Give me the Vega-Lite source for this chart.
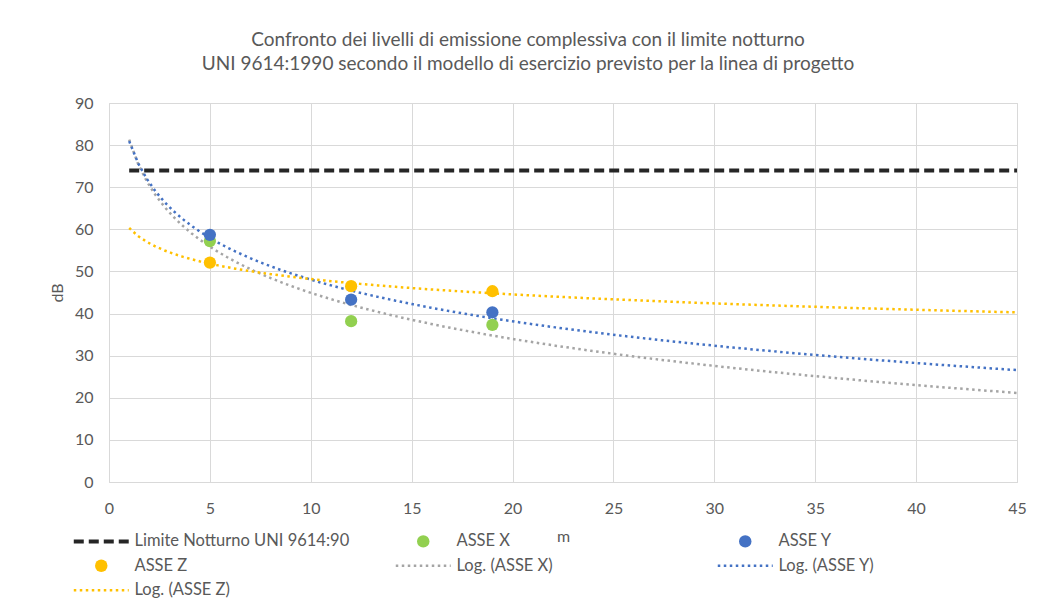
{
  "$schema": "https://vega.github.io/schema/vega-lite/v6.json",
  "width": 908,
  "height": 379,
  "autosize": {"type": "none"},
  "padding": {"left": 109, "top": 103, "right": 23, "bottom": 122},
  "background": "white",
  "config": {
    "font": "Lato",
    "view": {"stroke": "#d9d9d9"},
    "axis": {"labelFont": "Lato", "titleFont": "Lato"},
    "legend": {"labelFont": "Lato"}
  },
  "title": {
    "text": [
      "Confronto dei livelli di emissione complessiva con il limite notturno",
      "UNI 9614:1990 secondo il modello di esercizio previsto per la linea di progetto"
    ],
    "fontSize": 19,
    "fontWeight": "normal",
    "color": "#595959",
    "lineHeight": 24,
    "anchor": "middle",
    "frame": "group",
    "dx": -35,
    "offset": 21
  },
  "datasets": {
    "pts": [
      {"series": "ASSE X", "trend": "Log. (ASSE X)", "x": 5, "y": 57.2},
      {"series": "ASSE X", "trend": "Log. (ASSE X)", "x": 12, "y": 38.2},
      {"series": "ASSE X", "trend": "Log. (ASSE X)", "x": 19, "y": 37.3},
      {"series": "ASSE Y", "trend": "Log. (ASSE Y)", "x": 5, "y": 58.7},
      {"series": "ASSE Y", "trend": "Log. (ASSE Y)", "x": 12, "y": 43.3},
      {"series": "ASSE Y", "trend": "Log. (ASSE Y)", "x": 19, "y": 40.3},
      {"series": "ASSE Z", "trend": "Log. (ASSE Z)", "x": 5, "y": 52.1},
      {"series": "ASSE Z", "trend": "Log. (ASSE Z)", "x": 12, "y": 46.5},
      {"series": "ASSE Z", "trend": "Log. (ASSE Z)", "x": 19, "y": 45.3}
    ],
    "lim": [
      {"series": "Limite Notturno UNI 9614:90", "x": 1, "y": 74},
      {"series": "Limite Notturno UNI 9614:90", "x": 45, "y": 74}
    ]
  },
  "encoding": {
    "x": {
      "field": "x",
      "type": "quantitative",
      "scale": {"domain": [0, 45], "nice": false, "zero": false},
      "axis": {
        "values": [0, 5, 10, 15, 20, 25, 30, 35, 40, 45],
        "grid": true,
        "gridColor": "#d9d9d9",
        "domainColor": "#d9d9d9",
        "ticks": false,
        "labelPadding": 18,
        "labelFlush": false,
        "labelFontSize": 16,
        "labelColor": "#595959",
        "title": "m",
        "titleFontSize": 16,
        "titleFontWeight": "normal",
        "titleColor": "#595959",
        "titleY": 59,
        "titleBaseline": "alphabetic"
      }
    },
    "y": {
      "field": "y",
      "type": "quantitative",
      "scale": {"domain": [0, 90], "nice": false},
      "axis": {
        "values": [0, 10, 20, 30, 40, 50, 60, 70, 80, 90],
        "grid": true,
        "gridColor": "#d9d9d9",
        "domain": false,
        "ticks": false,
        "labelPadding": 16,
        "labelFontSize": 16,
        "labelColor": "#595959",
        "title": "dB",
        "titleFontSize": 16,
        "titleFontWeight": "normal",
        "titleColor": "#595959",
        "titlePadding": 9
      }
    }
  },
  "layer": [
    {
      "data": {"name": "pts"},
      "transform": [
        {"regression": "y", "on": "x", "method": "log", "groupby": ["trend"], "extent": [1, 45]}
      ],
      "mark": {"type": "line", "strokeWidth": 2.5, "clip": true},
      "encoding": {
        "color": {
          "field": "trend",
          "type": "nominal",
          "scale": {
            "domain": ["Limite Notturno UNI 9614:90", "ASSE X", "ASSE Y", "ASSE Z", "Log. (ASSE X)", "Log. (ASSE Y)", "Log. (ASSE Z)"],
            "range": ["#262626", "#92d050", "#4472c4", "#ffc000", "#a5a5a5", "#4472c4", "#ffc000"]
          },
          "legend": {
            "orient": "none",
            "legendX": -16,
            "legendY": 430,
            "title": null,
            "columns": 3,
            "direction": "horizontal",
            "gridAlign": "all",
            "columnPadding": 40,
            "rowPadding": 7.5,
            "padding": 0,
            "labelFontSize": 16.5,
            "labelColor": "#595959",
            "labelOffset": 25,
            "labelLimit": 400,
            "symbolSize": 156,
            "encode": {
              "symbols": {
                "update": {
                  "shape": {"scale": "shape", "field": "value"},
                  "strokeDash": {"scale": "strokeDash", "field": "value"},
                  "stroke": {"scale": "color", "field": "value"},
                  "fill": {"signal": "indexof(['ASSE X','ASSE Y','ASSE Z'], datum.value) >= 0 ? scale('color', datum.value) : 'transparent'"},
                  "strokeWidth": {"signal": "datum.value === 'Limite Notturno UNI 9614:90' ? 4 : (indexof(['ASSE X','ASSE Y','ASSE Z'], datum.value) >= 0 ? 0 : 2.5)"},
                  "size": {"value": 156},
                  "opacity": {"value": 1}
                }
              }
            }
          }
        },
        "strokeDash": {
          "field": "trend",
          "type": "nominal",
          "scale": {
            "domain": ["Limite Notturno UNI 9614:90", "ASSE X", "ASSE Y", "ASSE Z", "Log. (ASSE X)", "Log. (ASSE Y)", "Log. (ASSE Z)"],
            "range": [[10, 5], [1, 0], [1, 0], [1, 0], [2.5, 3.5], [2.5, 3.5], [2.5, 3.5]]
          },
          "legend": null
        }
      }
    },
    {
      "data": {"name": "pts"},
      "mark": {"type": "point", "filled": true, "size": 150, "opacity": 1},
      "encoding": {
        "color": {"field": "series", "type": "nominal"},
        "shape": {
          "field": "series",
          "type": "nominal",
          "scale": {
            "domain": ["Limite Notturno UNI 9614:90", "ASSE X", "ASSE Y", "ASSE Z", "Log. (ASSE X)", "Log. (ASSE Y)", "Log. (ASSE Z)"],
            "range": ["M-4.4,0H4.4", "circle", "circle", "circle", "M-4.4,0H4.4", "M-4.4,0H4.4", "M-4.4,0H4.4"]
          },
          "legend": null
        }
      }
    },
    {
      "data": {"name": "lim"},
      "mark": {"type": "line", "strokeWidth": 4},
      "encoding": {
        "color": {"field": "series", "type": "nominal"},
        "strokeDash": {"field": "series", "type": "nominal", "legend": null}
      }
    }
  ]
}
